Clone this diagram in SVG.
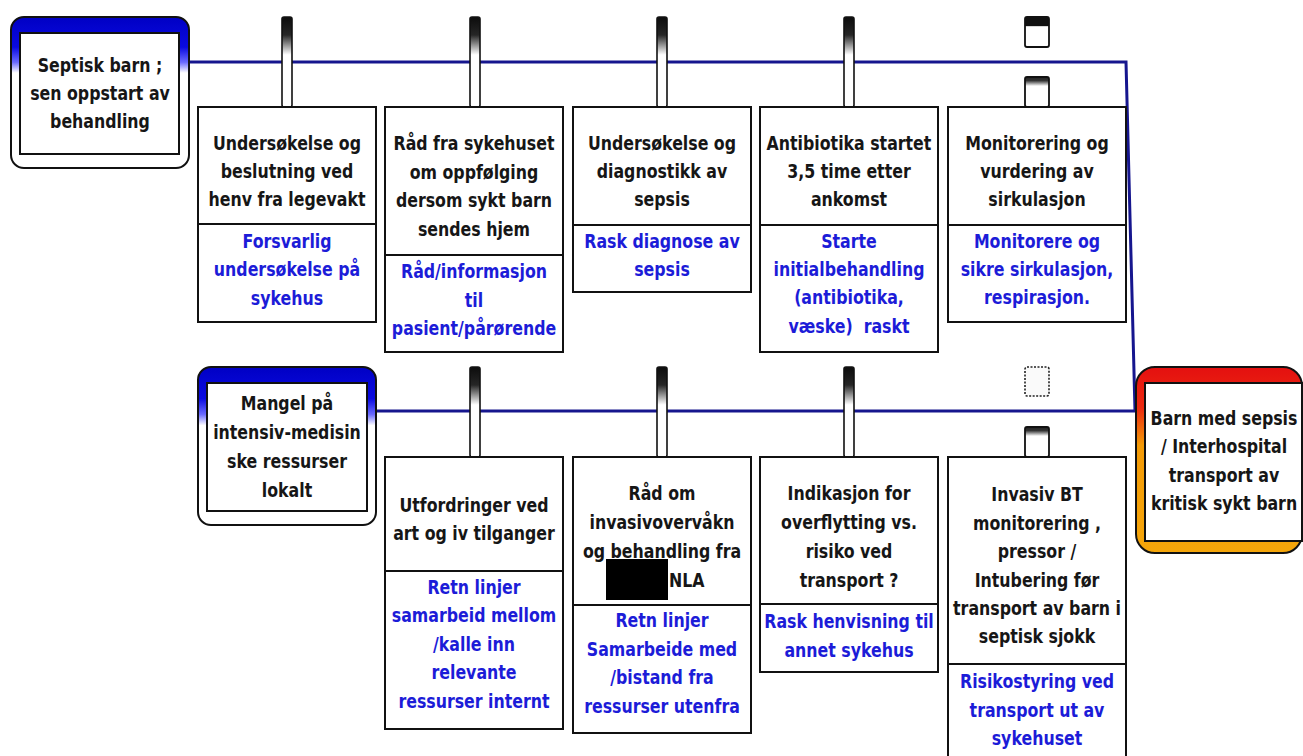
<svg xmlns="http://www.w3.org/2000/svg" width="1303" height="756" viewBox="0 0 1303 756">
  <style>
    .box { fill: #ffffff; stroke: #111111; stroke-width: 2; }
    .div { stroke: #111111; stroke-width: 2; }
    .t { font-family: "DejaVu Sans", "Liberation Sans", sans-serif; font-weight: bold; font-size: 19.5px; text-anchor: middle; }
    .blk { fill: #161616; }
    .blu { fill: #1c1cd8; }
    .wire { fill: none; stroke: #16168e; stroke-width: 3; }
    .stem { fill: url(#stemFill); stroke: #111111; stroke-width: 1.6; }
    .tab { stroke: #111111; stroke-width: 1.8; }
  </style>
  <defs>
    <linearGradient id="stemFill" x1="0" y1="0" x2="0" y2="1">
      <stop offset="0" stop-color="#0c0c0c"/>
      <stop offset="0.2" stop-color="#262626"/>
      <stop offset="0.42" stop-color="#ffffff"/>
      <stop offset="1" stop-color="#ffffff"/>
    </linearGradient>
    <linearGradient id="tabSolid" x1="0" y1="0" x2="0" y2="1">
      <stop offset="0" stop-color="#111111"/>
      <stop offset="0.3" stop-color="#111111"/>
      <stop offset="0.32" stop-color="#ffffff"/>
      <stop offset="1" stop-color="#ffffff"/>
    </linearGradient>
    <linearGradient id="tabSoft" x1="0" y1="0" x2="0" y2="1">
      <stop offset="0" stop-color="#222222"/>
      <stop offset="0.12" stop-color="#333333"/>
      <stop offset="0.3" stop-color="#ffffff"/>
      <stop offset="1" stop-color="#ffffff"/>
    </linearGradient>
    <linearGradient id="blueHead" x1="0" y1="0" x2="0" y2="1">
      <stop offset="0" stop-color="#0000c4"/>
      <stop offset="0.2" stop-color="#0a0ae0"/>
      <stop offset="0.3" stop-color="#6a6aff"/>
      <stop offset="0.37" stop-color="#ffffff"/>
      <stop offset="1" stop-color="#ffffff"/>
    </linearGradient>
    <linearGradient id="fireHead" x1="0" y1="0" x2="0" y2="1">
      <stop offset="0" stop-color="#e41010"/>
      <stop offset="0.22" stop-color="#ec2a10"/>
      <stop offset="0.42" stop-color="#f39a06"/>
      <stop offset="1" stop-color="#f5a60a"/>
    </linearGradient>
  </defs>

  <rect width="1303" height="756" fill="#ffffff"/>

  <!-- connectors: spine lines, stems and empty tabs -->
  <g id="connectors">
    <polyline class="wire" points="189,62 1126,62 1135,411"/>
    <line class="wire" x1="376" y1="411" x2="1135" y2="411"/>
    <!-- upper stems -->
    <rect class="stem" x="282" y="17" width="10" height="90" rx="2"/>
    <rect class="stem" x="470" y="17" width="10" height="90" rx="2"/>
    <rect class="stem" x="657" y="17" width="10" height="90" rx="2"/>
    <rect class="stem" x="844" y="17" width="10" height="90" rx="2"/>
    <rect class="tab" x="1025" y="17" width="24" height="30" rx="2" fill="url(#tabSolid)"/>
    <rect class="tab" x="1025" y="77" width="24" height="30" rx="2" fill="url(#tabSoft)"/>
    <!-- lower stems -->
    <rect class="stem" x="470" y="367" width="10" height="90" rx="2"/>
    <rect class="stem" x="657" y="367" width="10" height="90" rx="2"/>
    <rect class="stem" x="844" y="367" width="10" height="90" rx="2"/>
    <rect x="1025" y="367" width="24" height="29" rx="2" fill="#fafafa" stroke="#222222" stroke-width="1.6" stroke-dasharray="2 1.5"/>
    <rect class="tab" x="1025" y="427" width="24" height="30" rx="2" fill="url(#tabSoft)"/>
  </g>

  <!-- start: septic child -->
  <g id="start-septisk">
    <rect x="11" y="17" width="178" height="151" rx="13" fill="url(#blueHead)" stroke="#111111" stroke-width="2"/>
    <rect class="box" x="20" y="33" width="159" height="121"/>
    <g transform="translate(100 0) scale(0.81 1)">
      <text class="t blk"><tspan x="0" y="72.5">Septisk barn ;</tspan><tspan x="0" y="100.5">sen oppstart av</tspan><tspan x="0" y="128.5">behandling</tspan></text>
    </g>
  </g>

  <!-- start: missing ICU resources -->
  <g id="start-mangel">
    <rect x="198" y="367" width="178" height="158" rx="13" fill="url(#blueHead)" stroke="#111111" stroke-width="2"/>
    <rect class="box" x="207" y="383" width="160" height="128"/>
    <g transform="translate(287 0) scale(0.81 1)">
      <text class="t blk"><tspan x="0" y="410">Mangel på</tspan><tspan x="0" y="439">intensiv-medisin</tspan><tspan x="0" y="468">ske ressurser</tspan><tspan x="0" y="497">lokalt</tspan></text>
    </g>
  </g>

  <!-- outcome -->
  <g id="outcome">
    <rect x="1136" y="367" width="166" height="186" rx="19" fill="url(#fireHead)" stroke="#111111" stroke-width="2"/>
    <rect class="box" x="1145" y="383" width="157" height="158"/>
    <g transform="translate(1224 0) scale(0.81 1)">
      <text class="t blk"><tspan x="0" y="425">Barn med sepsis</tspan><tspan x="0" y="453.5">/ Interhospital</tspan><tspan x="0" y="482">transport av</tspan><tspan x="0" y="510.5">kritisk sykt barn</tspan></text>
    </g>
  </g>

  <!-- upper chain -->
  <g id="u1">
    <rect class="box" x="198" y="107" width="178" height="215"/>
    <line class="div" x1="198" y1="224" x2="376" y2="224"/>
    <g transform="translate(287 0) scale(0.81 1)">
      <text class="t blk"><tspan x="0" y="150">Undersøkelse og</tspan><tspan x="0" y="178">beslutning ved</tspan><tspan x="0" y="206">henv fra legevakt</tspan></text>
      <text class="t blu"><tspan x="0" y="248">Forsvarlig</tspan><tspan x="0" y="276.5">undersøkelse på</tspan><tspan x="0" y="305">sykehus</tspan></text>
    </g>
  </g>

  <g id="u2">
    <rect class="box" x="385" y="107" width="178" height="245"/>
    <line class="div" x1="385" y1="255" x2="563" y2="255"/>
    <g transform="translate(474 0) scale(0.81 1)">
      <text class="t blk"><tspan x="0" y="150.5">Råd fra sykehuset</tspan><tspan x="0" y="179">om oppfølging</tspan><tspan x="0" y="207.5">dersom sykt barn</tspan><tspan x="0" y="236">sendes hjem</tspan></text>
      <text class="t blu"><tspan x="0" y="278.5">Råd/informasjon</tspan><tspan x="0" y="307">til</tspan><tspan x="0" y="335.5">pasient/pårørende</tspan></text>
    </g>
  </g>

  <g id="u3">
    <rect class="box" x="573" y="107" width="178" height="185"/>
    <line class="div" x1="573" y1="225" x2="751" y2="225"/>
    <g transform="translate(662 0) scale(0.81 1)">
      <text class="t blk"><tspan x="0" y="150">Undersøkelse og</tspan><tspan x="0" y="178">diagnostikk av</tspan><tspan x="0" y="206">sepsis</tspan></text>
      <text class="t blu"><tspan x="0" y="248.5">Rask diagnose av</tspan><tspan x="0" y="276.5">sepsis</tspan></text>
    </g>
  </g>

  <g id="u4">
    <rect class="box" x="760" y="107" width="178" height="245"/>
    <line class="div" x1="760" y1="225" x2="938" y2="225"/>
    <g transform="translate(849 0) scale(0.81 1)">
      <text class="t blk"><tspan x="0" y="150">Antibiotika startet</tspan><tspan x="0" y="178">3,5 time etter</tspan><tspan x="0" y="206.5">ankomst</tspan></text>
      <text class="t blu"><tspan x="0" y="248">Starte</tspan><tspan x="0" y="276.5">initialbehandling</tspan><tspan x="0" y="304.5">(antibiotika,</tspan><tspan x="0" y="333">væske)&#160; raskt</tspan></text>
    </g>
  </g>

  <g id="u5">
    <rect class="box" x="948" y="107" width="178" height="215"/>
    <line class="div" x1="948" y1="225" x2="1126" y2="225"/>
    <g transform="translate(1037 0) scale(0.81 1)">
      <text class="t blk"><tspan x="0" y="150">Monitorering og</tspan><tspan x="0" y="178">vurdering av</tspan><tspan x="0" y="206.5">sirkulasjon</tspan></text>
      <text class="t blu"><tspan x="0" y="248">Monitorere og</tspan><tspan x="0" y="276.5">sikre sirkulasjon,</tspan><tspan x="0" y="304.5">respirasjon.</tspan></text>
    </g>
  </g>

  <!-- lower chain -->
  <g id="l1">
    <rect class="box" x="385" y="457" width="178" height="272"/>
    <line class="div" x1="385" y1="571" x2="563" y2="571"/>
    <g transform="translate(474 0) scale(0.81 1)">
      <text class="t blk"><tspan x="0" y="512">Utfordringer ved</tspan><tspan x="0" y="540.5">art og iv tilganger</tspan></text>
      <text class="t blu"><tspan x="0" y="594">Retn linjer</tspan><tspan x="0" y="622.5">samarbeid mellom</tspan><tspan x="0" y="651">/kalle inn</tspan><tspan x="0" y="679.5">relevante</tspan><tspan x="0" y="708">ressurser internt</tspan></text>
    </g>
  </g>

  <g id="l2">
    <rect class="box" x="573" y="457" width="178" height="276"/>
    <line class="div" x1="573" y1="605" x2="751" y2="605"/>
    <g transform="translate(662 0) scale(0.81 1)">
      <text class="t blk"><tspan x="0" y="500">Råd om</tspan><tspan x="0" y="529">invasivovervåkn</tspan><tspan x="0" y="558">og behandling fra</tspan></text>
      <text class="t blu"><tspan x="0" y="627">Retn linjer</tspan><tspan x="0" y="656">Samarbeide med</tspan><tspan x="0" y="684.5">/bistand fra</tspan><tspan x="0" y="713">ressurser utenfra</tspan></text>
    </g>
    <rect x="606" y="559" width="62" height="41" fill="#000000"/>
    <g transform="translate(669 0) scale(0.81 1)">
      <text class="t blk" style="text-anchor:start"><tspan x="0" y="587">NLA</tspan></text>
    </g>
  </g>

  <g id="l3">
    <rect class="box" x="760" y="457" width="178" height="215"/>
    <line class="div" x1="760" y1="604" x2="938" y2="604"/>
    <g transform="translate(849 0) scale(0.81 1)">
      <text class="t blk"><tspan x="0" y="500">Indikasjon for</tspan><tspan x="0" y="529">overflytting vs.</tspan><tspan x="0" y="558">risiko ved</tspan><tspan x="0" y="587">transport ?</tspan></text>
      <text class="t blu"><tspan x="0" y="628.5">Rask henvisning til</tspan><tspan x="0" y="657">annet sykehus</tspan></text>
    </g>
  </g>

  <g id="l4">
    <rect class="box" x="948" y="457" width="178" height="305"/>
    <line class="div" x1="948" y1="664" x2="1126" y2="664"/>
    <g transform="translate(1037 0) scale(0.81 1)">
      <text class="t blk"><tspan x="0" y="501.5">Invasiv BT</tspan><tspan x="0" y="530">monitorering ,</tspan><tspan x="0" y="558.5">pressor /</tspan><tspan x="0" y="587">Intubering før</tspan><tspan x="0" y="615">transport av barn i</tspan><tspan x="0" y="643.5">septisk sjokk</tspan></text>
      <text class="t blu"><tspan x="0" y="688.5">Risikostyring ved</tspan><tspan x="0" y="717">transport ut av</tspan><tspan x="0" y="745">sykehuset</tspan></text>
    </g>
  </g>
</svg>
